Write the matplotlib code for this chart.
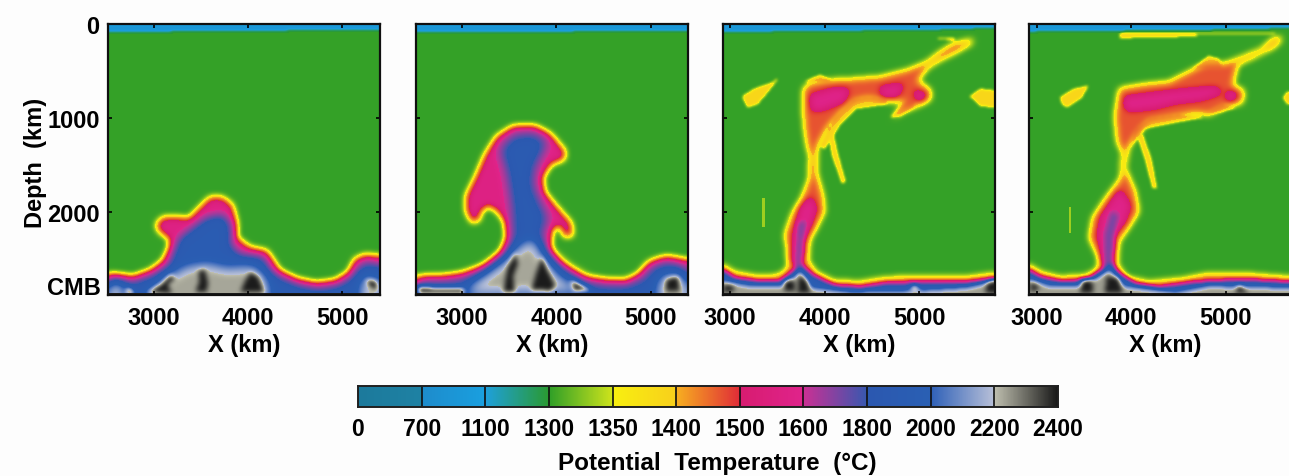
import numpy as np
import matplotlib
matplotlib.use('Agg')
import matplotlib.pyplot as plt
from matplotlib.colors import LinearSegmentedColormap, FuncNorm
from matplotlib.path import Path

plt.rcParams['font.family'] = ['Liberation Sans', 'DejaVu Sans']
plt.rcParams['font.weight'] = 'bold'
plt.rcParams['axes.labelweight'] = 'bold'

W, H = 1289, 477

# colour bar levels, deg C
temp_levels = [0, 700, 1100, 1300, 1350, 1400, 1500, 1600, 1800, 2000, 2200, 2400]
temp_labels = [str(t) for t in temp_levels]
seg_colors = [('#1c7a9c', '#1f82a4'), ('#1e8ccc', '#1aa0e0'), ('#1fa0dc', '#2a9a30'),
              ('#2f9f28', '#cfe41c'), ('#f8f010', '#f8d01c'), ('#f8b020', '#e02c38'),
              ('#d81c70', '#e0248c'), ('#cc3094', '#3858b0'), ('#2c58b0', '#2a60b4'),
              ('#2e60b8', '#b8c0d8'), ('#c0c0b0', '#181818')]

# panel limits, km
panel_xlims = [(2513, 5400), (2510, 5395), (2926, 5803), (2919, 5799)]
panel_left = [108, 416, 723, 1029]
depth_max = 2890
floor_depth = [2872, 2875, 2875, 2872]

# outlines as (x km, depth km)
p1_hot = [(2517, 2677), (2781, 2706), (2958, 2642), (3099, 2535), (3169, 2394), (3169, 2287), (3063, 2216),
          (3028, 2145), (3099, 2074), (3240, 2074), (3381, 2081), (3487, 1968), (3593, 1862), (3716, 1855),
          (3822, 1933), (3868, 2110), (3875, 2287), (4016, 2394), (4192, 2429), (4263, 2535), (4333, 2642),
          (4510, 2730), (4721, 2776), (4933, 2748), (5074, 2660), (5144, 2518), (5250, 2472), (5400, 2493),
          (5400, 2890), (2513, 2890)]
p1_blue = [(2517, 2748), (2781, 2766), (3028, 2677), (3169, 2571), (3222, 2429), (3275, 2287), (3416, 2181),
           (3557, 2074), (3734, 2039), (3804, 2145), (3804, 2358), (3910, 2464), (4157, 2500), (4227, 2642),
           (4368, 2730), (4545, 2801), (4756, 2837), (4968, 2801), (5109, 2713), (5197, 2589), (5285, 2553),
           (5400, 2589), (5400, 2890), (2513, 2890)]
p1_gray = [[(3134, 2713), (3346, 2589), (3557, 2553), (3769, 2606), (4051, 2589), (4192, 2713), (4227, 2890), (2958, 2890)],
           [(5215, 2730), (5356, 2713), (5400, 2890), (5197, 2890)],
           [(2517, 2766), (2640, 2766), (2676, 2890), (2517, 2890)]]
p1_dark = [[(3470, 2640), (3540, 2620), (3575, 2760), (3560, 2860), (3440, 2860), (3480, 2750)],
           [(4020, 2650), (4110, 2700), (4170, 2860), (3920, 2860), (3960, 2760)],
           [(3060, 2790), (3180, 2680), (3230, 2720), (3150, 2790), (3190, 2875), (2900, 2875)],
           [(5250, 2730), (5374, 2748), (5374, 2855), (5290, 2800)],
           [(2720, 2810), (2800, 2880), (2690, 2880)]]

p2_hot = [(2513, 2720), (2771, 2713), (3018, 2677), (3265, 2578), (3424, 2429), (3484, 2287), (3459, 2110),
          (3371, 1986), (3272, 1933), (3194, 1986), (3166, 2092), (3106, 2110), (3042, 1986), (3053, 1826),
          (3141, 1649), (3247, 1401), (3371, 1206), (3547, 1099), (3759, 1092), (3935, 1188), (4077, 1347),
          (4077, 1436), (3935, 1489), (3847, 1631), (3858, 1791), (4006, 1968), (4147, 2128), (4165, 2252),
          (4094, 2269), (4041, 2145), (3953, 2181), (3918, 2394), (4041, 2571), (4288, 2720), (4536, 2755),
          (4747, 2766), (4889, 2677), (4994, 2553), (5171, 2500), (5400, 2535), (5400, 2890), (2513, 2890)]
p2_blue = [(3406, 1330), (3547, 1188), (3759, 1170), (3900, 1259), (3830, 1401), (3759, 1542), (3741, 1720),
           (3830, 1933), (3900, 2074), (3830, 2252), (3900, 2464), (4112, 2642), (4324, 2766), (4536, 2801),
           (4747, 2801), (4924, 2730), (5030, 2606), (5171, 2553), (5383, 2606), (5400, 2890), (2513, 2890),
           (2513, 2766), (2947, 2748), (3229, 2660), (3477, 2482), (3547, 2252), (3530, 1933), (3477, 1578)]
p2_gray = [[(3053, 2819), (3441, 2535), (3582, 2394), (3741, 2287), (3865, 2500), (4041, 2713), (4324, 2855), (3053, 2890)],
           [(5100, 2713), (5242, 2660), (5383, 2730), (5395, 2890), (5065, 2890)]]
p2_dark = [[(3480, 2600), (3570, 2440), (3590, 2560), (3540, 2700), (3560, 2860), (3430, 2860)],
           [(3840, 2480), (3910, 2640), (3990, 2800), (3940, 2850), (3730, 2840), (3790, 2640)],
           [(5171, 2730), (5295, 2695), (5312, 2855), (5171, 2855)],
           [(2523, 2801), (2700, 2819), (3018, 2819), (3018, 2883), (2523, 2883)],
           [(4147, 2730), (4394, 2855), (4183, 2855)]]

p3_hot = [(2926, 2589), (3039, 2660), (3286, 2706), (3515, 2695), (3621, 2606), (3611, 2394), (3586, 2252),
          (3657, 2039), (3762, 1862), (3844, 1649), (3851, 1418), (3822, 1294), (3787, 1046), (3780, 691),
          (3833, 638), (4027, 603), (4274, 592), (4592, 567), (4874, 496), (5086, 408), (5227, 301),
          (5369, 213), (5580, 160), (5563, 195), (5404, 284), (5227, 372), (5086, 461), (4980, 603),
          (5122, 709), (5122, 798), (5016, 851), (4839, 922), (4733, 993), (4804, 887), (4874, 816),
          (4663, 816), (4451, 780), (4310, 816), (4168, 940), (4027, 1099), (3921, 1294), (3904, 1401),
          (3904, 1578), (3974, 1826), (3992, 2003), (3921, 2145), (3833, 2305), (3815, 2535), (3904, 2660),
          (4098, 2755), (4380, 2766), (4663, 2720), (5157, 2713), (5510, 2713), (5803, 2677), (5803, 2890),
          (2926, 2890)]
p3_pink = [[(3851, 762), (4098, 691), (4257, 691), (4204, 816), (3992, 904), (3868, 922)],
           [(4592, 674), (4839, 638), (4769, 762), (4610, 762)],
           [(4963, 709), (5086, 745), (5016, 816), (4963, 780)],
           [(3745, 1968), (3851, 1844), (3904, 1968), (3851, 2145), (3762, 2323), (3727, 2571), (3657, 2535), (3674, 2252)]]
p3_purple = [(3727, 2110), (3798, 2110), (3762, 2323), (3745, 2642), (3692, 2606)]
p3_yellow = [[(4027, 1082), (4080, 1117), (4133, 1365), (4221, 1684), (4186, 1702), (4080, 1401)],
             [(3127, 769), (3251, 691), (3445, 621), (3515, 567), (3392, 727), (3286, 851), (3180, 887)],
             [(5545, 769), (5651, 691), (5803, 709), (5803, 887), (5651, 869)],
             [(5122, 142), (5369, 142), (5386, 177), (5298, 160)],
             [(4698, 993), (4839, 851), (4945, 780), (4945, 887), (4804, 975)],
             [(3780, 620), (3950, 540), (4100, 620)],
             [(3950, 1300), (4100, 1000), (4300, 800), (4480, 770), (4660, 800), (4660, 850), (4330, 900), (4170, 1060), (4000, 1330)]]
p3_speck = [[(3339, 1862), (3364, 1862), (3364, 2163), (3339, 2163)]]
p3_blue = [(2926, 2642), (3039, 2720), (3286, 2755), (3533, 2755), (3674, 2642), (3745, 2571), (3851, 2677),
           (4098, 2801), (4380, 2819), (4663, 2777), (5157, 2766), (5510, 2766), (5803, 2730), (5803, 2890),
           (2926, 2890)]
p3_gray = [[(2926, 2748), (3215, 2801), (3568, 2801), (3745, 2642), (3851, 2819), (4274, 2872), (4980, 2855),
            (5510, 2819), (5803, 2748), (5803, 2890), (2926, 2890)]]
p3_dark = [[(3568, 2748), (3674, 2730), (3692, 2855), (3568, 2855)],
           [(3727, 2677), (3815, 2748), (3851, 2872), (3710, 2872)],
           [(5722, 2766), (5803, 2748), (5803, 2872), (5704, 2872)],
           [(2933, 2784), (3039, 2801), (3039, 2855), (2933, 2872)],
           [(4945, 2784), (5016, 2855), (4910, 2855)]]

p4_hot = [(2919, 2589), (3035, 2660), (3246, 2713), (3526, 2695), (3649, 2624), (3667, 2500), (3562, 2287),
          (3597, 2074), (3737, 1862), (3895, 1649), (3913, 1365), (3860, 1259), (3835, 975), (3878, 691),
          (4123, 649), (4404, 621), (4615, 514), (4790, 426), (5001, 426), (5176, 355), (5387, 266),
          (5527, 142), (5615, 142), (5527, 230), (5317, 337), (5124, 426), (5071, 656), (5194, 709),
          (5176, 833), (5001, 869), (4825, 957), (4685, 940), (4404, 993), (4193, 1028), (4071, 1152),
          (3965, 1312), (3930, 1542), (4035, 1791), (4071, 2003), (3983, 2145), (3860, 2323), (3842, 2571),
          (3948, 2713), (4193, 2766), (4544, 2730), (4825, 2677), (5176, 2677), (5657, 2713), (5799, 2713),
          (5799, 2890), (2919, 2890)]
p4_pink = [[(3930, 780), (4229, 745), (4509, 709), (4895, 674), (4966, 727), (4755, 798), (4474, 833), (4264, 887),
            (3983, 922), (3930, 869)],
           [(5036, 709), (5124, 745), (5071, 833), (5001, 780)],
           [(3878, 1773), (3983, 1933), (3930, 2110), (3807, 2252), (3772, 2571), (3702, 2553), (3649, 2252), (3684, 2057)]]
p4_purple = [(3790, 2003), (3860, 2039), (3807, 2287), (3790, 2642), (3720, 2606), (3720, 2252)]
p4_yellow = [[(3878, 96), (4702, 89), (4702, 124), (3878, 142)],
             [(4702, 96), (5527, 89), (5527, 106), (4702, 106)],
             [(4053, 1152), (4123, 1188), (4211, 1436), (4271, 1755), (4229, 1755), (4158, 1472)],
             [(3246, 780), (3386, 691), (3544, 656), (3474, 780), (3316, 887), (3263, 851)],
             [(5615, 780), (5657, 727), (5799, 727), (5799, 851), (5657, 851)],
             [(4650, 479), (4825, 337), (4931, 372), (4966, 479)],
             [(4790, 957), (4966, 851), (5106, 887), (4931, 940)],
             [(3990, 1300), (4150, 1110), (4500, 1040), (4780, 990), (4500, 960), (4200, 1000), (4040, 1120)]]
p4_speck = [[(3344, 1950), (3362, 1950), (3362, 2234), (3344, 2234)]]
p4_blue = [(2919, 2642), (3035, 2713), (3246, 2755), (3526, 2748), (3702, 2624), (3772, 2553), (3878, 2677),
           (4053, 2784), (4299, 2819), (4685, 2766), (5176, 2741), (5657, 2766), (5799, 2766), (5799, 2890),
           (2919, 2890)]
p4_gray = [[(2919, 2730), (3140, 2801), (3491, 2801), (3772, 2624), (3913, 2801), (4474, 2872), (4825, 2801),
            (5657, 2819), (5799, 2819), (5799, 2890), (2919, 2890)]]
p4_dark = [[(3474, 2730), (3597, 2730), (3597, 2872), (3456, 2872)],
           [(3737, 2695), (3860, 2713), (3913, 2872), (3720, 2872)],
           [(2930, 2748), (3035, 2819), (2930, 2872)],
           [(5141, 2784), (5246, 2872), (5106, 2872)]]

lid_1 = [(2513, 0), (5400, 0), (5400, 45), (2513, 70)]
lid_2 = [(2510, 0), (5395, 0), (5395, 60), (2510, 70)]
lid_3 = [(2926, 0), (5803, 0), (5803, 25), (5150, 45), (2926, 70)]
lid_4 = [(2919, 0), (5799, 0), (5799, 25), (5100, 40), (2919, 65)]

# outline, target temperature, softening width in grid cells
layers_1 = [(p1_hot, 1570, 7), (p1_blue, 1900, 9)] + [(g, 2230, 11) for g in p1_gray] + [(k, 2395, 5) for k in p1_dark] + [(lid_1, 900, 3)]
layers_2 = [(p2_hot, 1570, 7), (p2_blue, 1880, 11)] + [(g, 2230, 11) for g in p2_gray] + [(k, 2395, 5) for k in p2_dark] + [(lid_2, 900, 3)]
layers_3 = ([(y, 1390, 3) for y in p3_yellow] + [(s, 1335, 1) for s in p3_speck] + [(p3_hot, 1470, 7)]
            + [(p, 1590, 7) for p in p3_pink] + [(p3_purple, 1720, 5), (p3_blue, 1900, 5)]
            + [(g, 2240, 5) for g in p3_gray] + [(k, 2395, 5) for k in p3_dark] + [(lid_3, 900, 3)])
layers_4 = ([(y, 1390, 3) for y in p4_yellow] + [(s, 1335, 1) for s in p4_speck] + [(p4_hot, 1470, 7)]
            + [(p, 1590, 7) for p in p4_pink] + [(p4_purple, 1720, 5), (p4_blue, 1900, 5)]
            + [(g, 2240, 5) for g in p4_gray] + [(k, 2395, 5) for k in p4_dark] + [(lid_4, 900, 3)])
panel_layers = [layers_1, layers_2, layers_3, layers_4]

idx = np.arange(len(temp_levels))


def to_index(t):
    return np.interp(t, temp_levels, idx)


def to_temp(u):
    return np.interp(u, idx, temp_levels)


stops = []
for i, (c0, c1) in enumerate(seg_colors):
    stops.append((i / 11, c0))
    stops.append(((i + 1) / 11, c1))
cmap = LinearSegmentedColormap.from_list('potential', stops, N=2048)
norm = FuncNorm((to_index, to_temp), vmin=0, vmax=2400)


def soften(mask, width):
    out = mask.astype(float)
    if width < 2:
        return out
    pad = (width // 2, width - 1 - width // 2)
    for axis in (0, 1):
        for _ in range(3):
            pads = [(0, 0), (0, 0)]
            pads[axis] = pad
            out = np.lib.stride_tricks.sliding_window_view(np.pad(out, pads, mode='edge'), width, axis=axis).mean(-1)
    return out


def make_field(xlim, layers, floor):
    xs = np.linspace(xlim[0], xlim[1], 272)
    ds = np.linspace(0, depth_max, 271)
    xx, dd = np.meshgrid(xs, ds)
    pts = np.column_stack([xx.ravel(), dd.ravel()])
    field = np.full(xx.shape, 1302.0)
    for outline, target, width in layers:
        mask = Path(outline + [outline[0]]).contains_points(pts).reshape(xx.shape)
        a = soften(mask, width)
        field = field + (target - field) * a
    field[dd > floor] = 2395
    return field


fig = plt.figure(figsize=(W / 100, H / 100), dpi=100, facecolor='#fdfdfd')

for i in range(4):
    left = panel_left[i]
    ax = fig.add_axes([left / W, 1 - 296 / H, 272 / W, 271 / H])
    xlim = panel_xlims[i]
    field = make_field(xlim, panel_layers[i], floor_depth[i])
    ax.imshow(field, extent=[xlim[0], xlim[1], depth_max, 0], aspect='auto', cmap=cmap, norm=norm,
              interpolation='bilinear')
    ax.set_xlim(xlim)
    ax.set_ylim(depth_max, 0)
    ax.set_xticks([3000, 4000, 5000])
    ax.set_yticks([0, 1000, 2000])
    ax.tick_params(direction='in', top=True, right=True, length=3, width=1.2, labelsize=17)
    ax.tick_params(axis='x', pad=8)
    ax.tick_params(axis='y', pad=6)
    for s in ax.spines.values():
        s.set_linewidth(1.6)
        s.set_color('#101010')
    ax.set_xlabel('X (km)', fontsize=17, labelpad=3)
    if i == 0:
        ax.text(-0.027, 0.028, 'CMB', transform=ax.transAxes, ha='right', va='center', fontsize=17)
        ax.set_ylabel('Depth  (km)', fontsize=17, labelpad=0, y=0.49)
    else:
        ax.set_yticklabels([])

# colour bar
cax = fig.add_axes([358 / W, 1 - 408 / H, 700 / W, 21 / H])
ramp = to_temp(np.linspace(0, 11, 1540))[None, :]
cax.imshow(ramp, extent=[0, 11, 0, 1], aspect='auto', cmap=cmap, norm=norm, interpolation='nearest')
for k in idx[1:-1]:
    cax.axvline(k, color='#101010', lw=1.2)
cax.set_yticks([])
cax.set_xticks(idx)
cax.set_xticklabels(temp_labels)
cax.tick_params(length=0, labelsize=16.5, pad=7)
for s in cax.spines.values():
    s.set_linewidth(1.4)
    s.set_color('#202020')
cax.set_xlabel('Potential  Temperature  (°C)', fontsize=17.5, labelpad=8, x=0.513)

fig.savefig('out.png', dpi=100, facecolor=fig.get_facecolor())
